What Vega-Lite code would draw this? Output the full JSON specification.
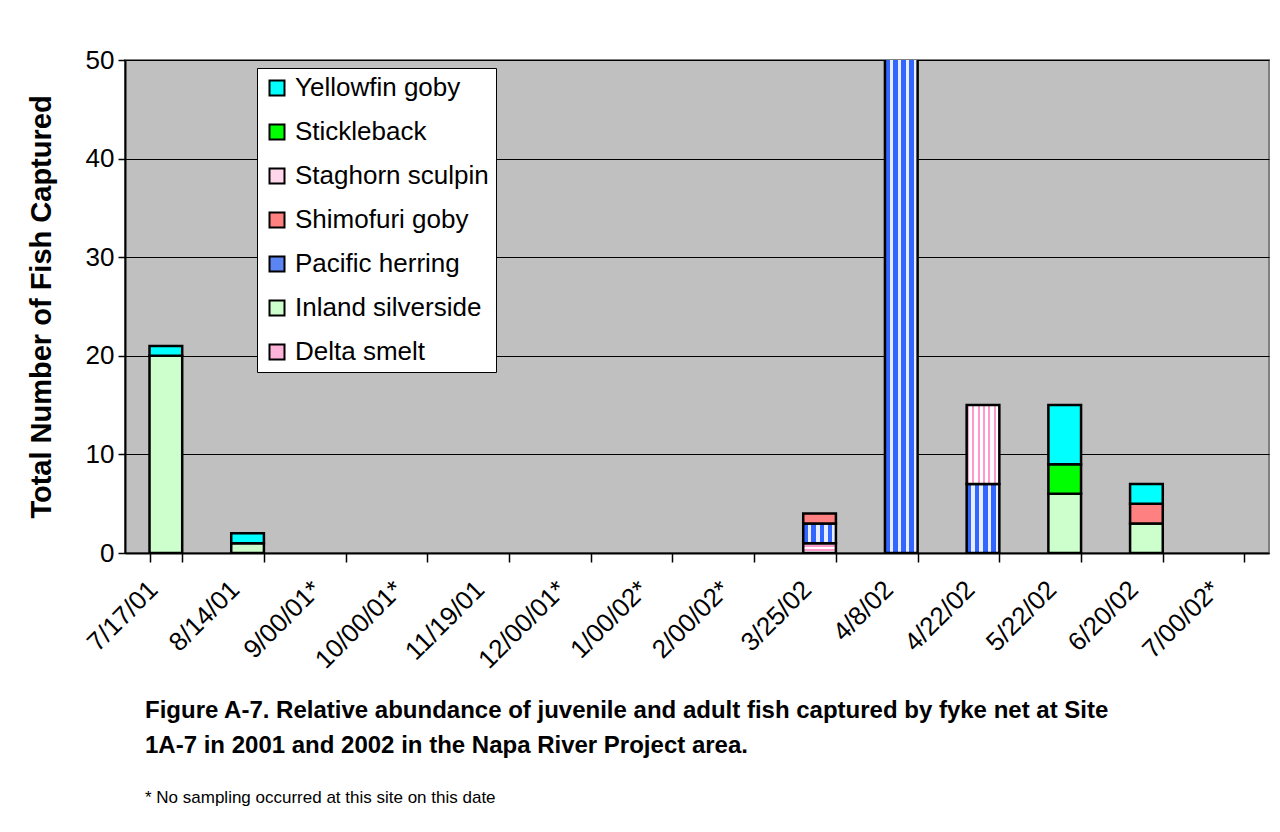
{
  "$schema": "https://vega.github.io/schema/vega-lite/v6.json",
  "autosize": {"type": "none"},
  "width": 1144,
  "height": 493,
  "padding": {"left": 125, "top": 60, "right": 11, "bottom": 279},
  "background": "#ffffff",
  "data": {
    "values": [
      {"date": "7/17/01", "species": "Inland silverside", "count": 20},
      {"date": "7/17/01", "species": "Yellowfin goby", "count": 1},
      {"date": "8/14/01", "species": "Inland silverside", "count": 1},
      {"date": "8/14/01", "species": "Yellowfin goby", "count": 1},
      {"date": "3/25/02", "species": "Delta smelt", "count": 1},
      {"date": "3/25/02", "species": "Pacific herring", "count": 2},
      {"date": "3/25/02", "species": "Shimofuri goby", "count": 1},
      {"date": "4/8/02", "species": "Pacific herring", "count": 60},
      {"date": "4/22/02", "species": "Pacific herring", "count": 7},
      {"date": "4/22/02", "species": "Staghorn sculpin", "count": 8},
      {"date": "5/22/02", "species": "Inland silverside", "count": 6},
      {"date": "5/22/02", "species": "Stickleback", "count": 3},
      {"date": "5/22/02", "species": "Yellowfin goby", "count": 6},
      {"date": "6/20/02", "species": "Inland silverside", "count": 3},
      {"date": "6/20/02", "species": "Shimofuri goby", "count": 2},
      {"date": "6/20/02", "species": "Yellowfin goby", "count": 2}
    ]
  },
  "title": {
    "text": ["Figure A-7. Relative abundance of juvenile and adult fish captured by fyke net at Site", "1A-7 in 2001 and 2002 in the Napa River Project area."],
    "subtitle": "\u2007\u00a0* No sampling occurred at this site on this date",
    "orient": "bottom",
    "anchor": "start",
    "frame": "group",
    "dx": 20,
    "offset": 26,
    "font": "Liberation Sans",
    "fontSize": 24,
    "fontWeight": "bold",
    "lineHeight": 35,
    "color": "#000000",
    "subtitleFont": "Liberation Sans",
    "subtitleFontSize": 17,
    "subtitleColor": "#000000",
    "subtitlePadding": 32
  },
  "mark": {"type": "bar", "stroke": "#000000", "strokeWidth": 2.5, "clip": true},
  "encoding": {
    "x": {
      "field": "date",
      "type": "nominal",
      "sort": null,
      "scale": {
        "domain": ["7/17/01", "8/14/01", "9/00/01*", "10/00/01*", "11/19/01", "12/00/01*", "1/00/02*", "2/00/02*", "3/25/02", "4/8/02", "4/22/02", "5/22/02", "6/20/02", "7/00/02*"],
        "paddingInner": 0.6,
        "paddingOuter": 0.3
      },
      "axis": {
        "title": null,
        "labelAngle": -45,
        "labelFont": "Liberation Sans",
        "labelFontSize": 26,
        "labelColor": "#000000",
        "labelPadding": 14,
        "labelOffset": -22,
        "tickBand": "extent",
        "tickSize": 9,
        "tickColor": "#000000",
        "tickWidth": 1.5,
        "domainColor": "#000000",
        "domainWidth": 2,
        "grid": false
      }
    },
    "y": {
      "field": "count",
      "type": "quantitative",
      "stack": "zero",
      "scale": {"domain": [0, 50], "nice": false},
      "axis": {
        "title": "Total Number of Fish Captured",
        "titleFont": "Liberation Sans",
        "titleFontSize": 29,
        "titleFontWeight": "bold",
        "titleColor": "#000000",
        "titlePadding": 29,
        "values": [0, 10, 20, 30, 40, 50],
        "labelFont": "Liberation Sans",
        "labelFontSize": 26,
        "labelColor": "#000000",
        "labelPadding": 4,
        "tickSize": 7,
        "tickColor": "#000000",
        "tickWidth": 1.5,
        "domainColor": "#000000",
        "domainWidth": 2,
        "grid": true,
        "gridColor": "#000000",
        "gridWidth": 1
      }
    },
    "order": {"field": "species", "sort": "ascending"},
    "fill": {
      "field": "species",
      "type": "nominal",
      "scale": {
        "domain": ["Yellowfin goby", "Stickleback", "Staghorn sculpin", "Shimofuri goby", "Pacific herring", "Inland silverside", "Delta smelt"],
        "range": ["#00ffff", "#00ff00", "#ffd6ea", "#ff8080", "#5b85f2", "#ccffcc", "#ffb3d9"]
      },
      "condition": [
        {
          "test": "datum.species === 'Pacific herring'",
          "value": {
            "gradient": "linear", "x1": 0, "y1": 0, "x2": 1, "y2": 0,
            "stops": [
              {"offset": 0, "color": "#3366ff"}, {"offset": 0.14, "color": "#3366ff"},
              {"offset": 0.14, "color": "#e8eeff"}, {"offset": 0.25, "color": "#e8eeff"},
              {"offset": 0.25, "color": "#3366ff"}, {"offset": 0.39, "color": "#3366ff"},
              {"offset": 0.39, "color": "#e8eeff"}, {"offset": 0.5, "color": "#e8eeff"},
              {"offset": 0.5, "color": "#3366ff"}, {"offset": 0.64, "color": "#3366ff"},
              {"offset": 0.64, "color": "#e8eeff"}, {"offset": 0.75, "color": "#e8eeff"},
              {"offset": 0.75, "color": "#3366ff"}, {"offset": 0.89, "color": "#3366ff"},
              {"offset": 0.89, "color": "#e8eeff"}, {"offset": 1, "color": "#e8eeff"}
            ]
          }
        },
        {
          "test": "datum.species === 'Staghorn sculpin'",
          "value": {
            "gradient": "linear", "x1": 0, "y1": 0, "x2": 1, "y2": 0,
            "stops": [
              {"offset": 0, "color": "#ff99cc"}, {"offset": 0.06, "color": "#ff99cc"},
              {"offset": 0.06, "color": "#ffffff"}, {"offset": 0.167, "color": "#ffffff"},
              {"offset": 0.167, "color": "#ff99cc"}, {"offset": 0.227, "color": "#ff99cc"},
              {"offset": 0.227, "color": "#ffffff"}, {"offset": 0.333, "color": "#ffffff"},
              {"offset": 0.333, "color": "#ff99cc"}, {"offset": 0.393, "color": "#ff99cc"},
              {"offset": 0.393, "color": "#ffffff"}, {"offset": 0.5, "color": "#ffffff"},
              {"offset": 0.5, "color": "#ff99cc"}, {"offset": 0.56, "color": "#ff99cc"},
              {"offset": 0.56, "color": "#ffffff"}, {"offset": 0.667, "color": "#ffffff"},
              {"offset": 0.667, "color": "#ff99cc"}, {"offset": 0.727, "color": "#ff99cc"},
              {"offset": 0.727, "color": "#ffffff"}, {"offset": 0.833, "color": "#ffffff"},
              {"offset": 0.833, "color": "#ff99cc"}, {"offset": 0.893, "color": "#ff99cc"},
              {"offset": 0.893, "color": "#ffffff"}, {"offset": 1, "color": "#ffffff"}
            ]
          }
        },
        {
          "test": "datum.species === 'Delta smelt'",
          "value": {
            "gradient": "linear", "x1": 0, "y1": 0, "x2": 0, "y2": 1,
            "stops": [
              {"offset": 0, "color": "#ffffff"}, {"offset": 0.2, "color": "#ffffff"},
              {"offset": 0.2, "color": "#ff99cc"}, {"offset": 0.4, "color": "#ff99cc"},
              {"offset": 0.4, "color": "#ffffff"}, {"offset": 0.6, "color": "#ffffff"},
              {"offset": 0.6, "color": "#ff99cc"}, {"offset": 0.8, "color": "#ff99cc"},
              {"offset": 0.8, "color": "#ffffff"}, {"offset": 1, "color": "#ffffff"}
            ]
          }
        }
      ],
      "legend": {
        "title": null,
        "orient": "none",
        "legendX": 132,
        "legendY": 8,
        "fillColor": "#ffffff",
        "strokeColor": "#000000",
        "padding": 7,
        "labelFont": "Liberation Sans",
        "labelFontSize": 26,
        "labelColor": "#000000",
        "labelLimit": 400,
        "labelOffset": 5,
        "symbolType": "square",
        "symbolSize": 225,
        "symbolStrokeColor": "#000000",
        "symbolStrokeWidth": 2,
        "rowPadding": 18
      }
    }
  },
  "config": {
    "view": {"fill": "#c0c0c0", "stroke": "#808080", "strokeWidth": 2}
  }
}
